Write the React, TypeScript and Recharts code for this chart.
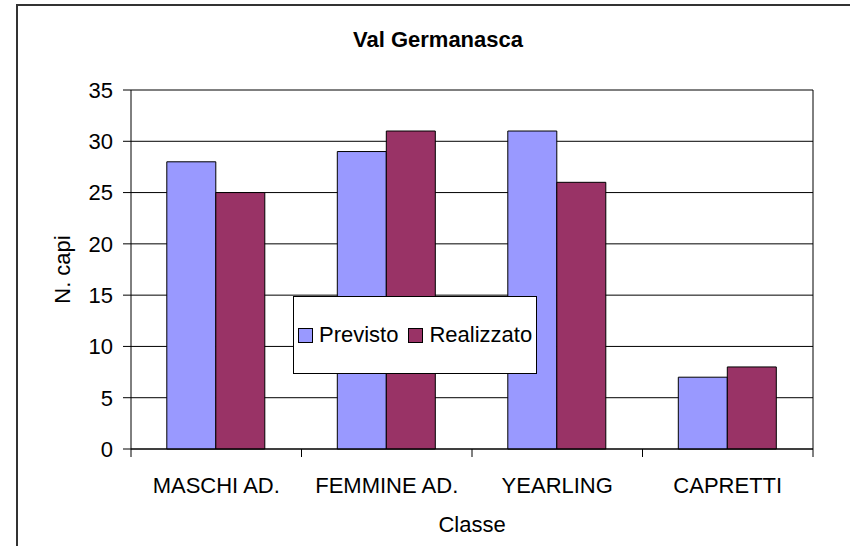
import { BarChart, Bar, XAxis, YAxis, CartesianGrid, Legend, Label } from 'recharts'

const classi = ['MASCHI AD.', 'FEMMINE AD.', 'YEARLING', 'CAPRETTI']
const previsto = [28, 29, 31, 7]
const realizzato = [25, 31, 26, 8]
const yTicks = [0, 5, 10, 15, 20, 25, 30, 35]

const data = classi.map((classe, i) => ({
  classe,
  Previsto: previsto[i],
  Realizzato: realizzato[i]
}))

const W = 850
const H = 546
const M = { top: 90, right: 37, left: 0, bottom: 0 }
const Y_W = 131
const X_H = 97
const TICK = 8
const GAP = 20
const FONT = '"Liberation Sans", Arial, Helvetica, sans-serif'

// category ticks: label in the middle, tick marks on the band edges (Excel style)
function ClasseTick(props: any) {
  const { x, y, payload, index } = props
  const band = (W - M.left - M.right - Y_W) / classi.length
  const axisY = y - TICK - GAP
  const left = x - band / 2
  return (
    <g>
      <line x1={left} x2={left} y1={axisY} y2={axisY + TICK} stroke="#000" />
      {index === classi.length - 1 && (
        <line x1={left + band} x2={left + band} y1={axisY} y2={axisY + TICK} stroke="#000" />
      )}
      <text x={x} y={y} dy="0.71em" textAnchor="middle" fontSize={22} fill="#000">
        {payload.value}
      </text>
    </g>
  )
}

function LegendBox(props: any) {
  const items = props.payload || []
  return (
    <div style={{ display: 'flex', alignItems: 'center', height: '100%', paddingLeft: 4, boxSizing: 'border-box' }}>
      {items.map((entry: any, i: number) => (
        <span key={entry.value} style={{ display: 'flex', alignItems: 'center', marginLeft: i === 0 ? 0 : 10 }}>
          <span style={{ width: 13, height: 13, background: entry.color, border: '1px solid #000', marginRight: 6 }} />
          <span style={{ fontSize: 22, color: '#000', lineHeight: '22px' }}>{entry.value}</span>
        </span>
      ))}
    </div>
  )
}

export default function App() {
  return (
    <div style={{ position: 'absolute', left: 0, top: 0, width: W, height: H, overflow: 'hidden', background: '#fff', fontFamily: FONT }}>
      <div style={{ position: 'absolute', left: 16, top: 4, width: W + 20, height: H + 20, borderTop: '2px solid #333', borderLeft: '2px solid #333' }} />
      <div style={{ position: 'absolute', left: 0, width: 876, top: 29, fontSize: 22, lineHeight: '22px', fontWeight: 'bold', textAlign: 'center', color: '#000' }}>
        Val Germanasca
      </div>
      <BarChart width={W} height={H} data={data} margin={M} barCategoryGap="21%" barGap={0}>
        <CartesianGrid
          stroke="#000"
          horizontal={true}
          vertical={true}
          verticalCoordinatesGenerator={({ offset }: any) => [offset.left + offset.width]}
        />
        <XAxis
          dataKey="classe"
          height={X_H}
          axisLine={{ stroke: '#000' }}
          tickLine={false}
          tickSize={TICK}
          tickMargin={GAP}
          tick={<ClasseTick />}
          interval={0}
        >
          <Label value="Classe" position="insideBottom" offset={14} fontSize={22} fill="#000" />
        </XAxis>
        <YAxis
          width={Y_W}
          domain={[0, 35]}
          ticks={yTicks}
          interval={0}
          axisLine={{ stroke: '#000' }}
          tickLine={{ stroke: '#000' }}
          tickSize={TICK}
          tickMargin={10}
          tick={{ fontSize: 22, fill: '#000' }}
        >
          <Label value="N. capi" angle={-90} position="insideLeft" offset={62} fontSize={22} fill="#000" style={{ textAnchor: 'middle' }} />
        </YAxis>
        <Legend
          layout="horizontal"
          verticalAlign="middle"
          align="center"
          content={<LegendBox />}
          wrapperStyle={{ left: 293, top: 296, width: 244, height: 78, border: '1px solid #000', background: '#fff', boxSizing: 'border-box' }}
        />
        <Bar dataKey="Previsto" fill="#9999FF" stroke="#000" strokeWidth={1} isAnimationActive={false} />
        <Bar dataKey="Realizzato" fill="#993366" stroke="#000" strokeWidth={1} isAnimationActive={false} />
      </BarChart>
    </div>
  )
}
